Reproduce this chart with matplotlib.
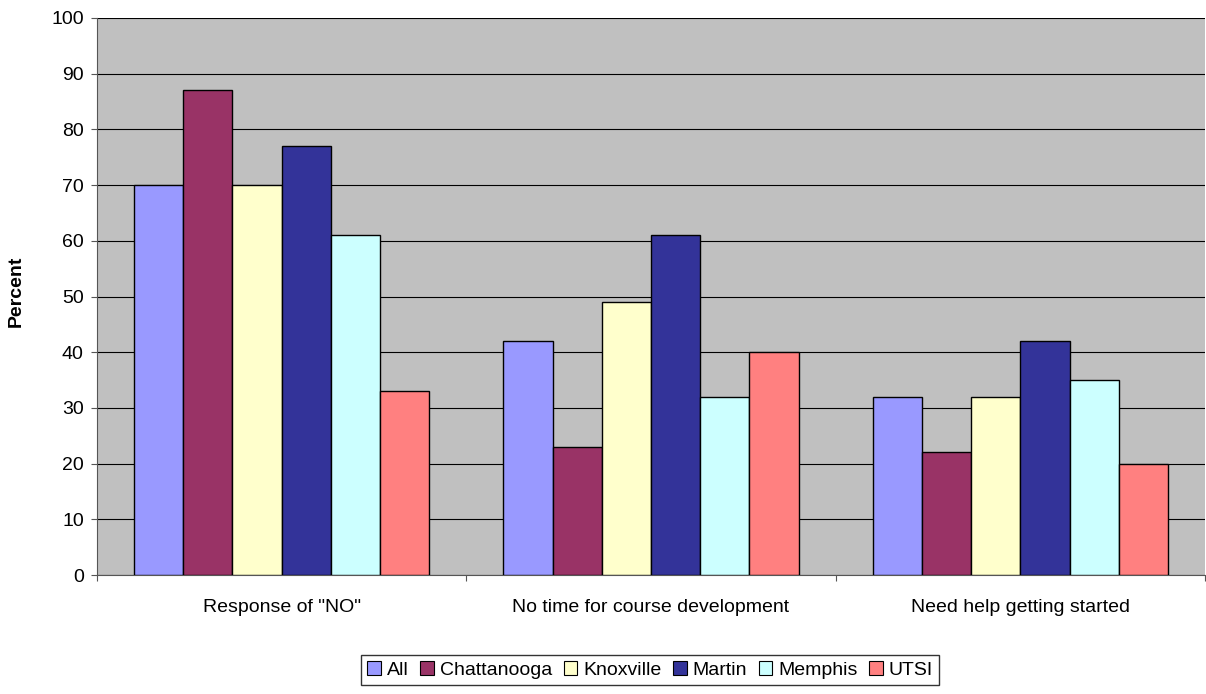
import numpy as np
import matplotlib.pyplot as plt
from matplotlib.patches import Patch

categories = ['Response of "NO"', 'No time for course development', 'Need help getting started']
campuses = ['All', 'Chattanooga', 'Knoxville', 'Martin', 'Memphis', 'UTSI']
colors = ['#9999FF', '#993366', '#FFFFCC', '#333399', '#CCFFFF', '#FF8080']

all_pct = [70, 42, 32]
chattanooga_pct = [87, 23, 22]
knoxville_pct = [70, 49, 32]
martin_pct = [77, 61, 42]
memphis_pct = [61, 32, 35]
utsi_pct = [33, 40, 20]

series = [all_pct, chattanooga_pct, knoxville_pct, martin_pct, memphis_pct, utsi_pct]

plt.rcParams['font.family'] = ['Liberation Sans', 'DejaVu Sans']

fig = plt.figure(figsize=(12.06, 6.94), dpi=100)
ax = fig.add_axes([97 / 1206, 119 / 694, 1108 / 1206, 557 / 694])
ax.set_facecolor('#C0C0C0')

x = np.arange(len(categories))
width = 0.8 / len(series)
for i, (vals, c) in enumerate(zip(series, colors)):
    ax.bar(x - 0.4 + width * (i + 0.5), vals, width, color=c,
           edgecolor='black', linewidth=1, label=campuses[i], zorder=3)

ax.set_xlim(-0.5, len(categories) - 0.5)
ax.set_ylim(0, 100)
ax.set_yticks(range(0, 101, 10))
ax.yaxis.grid(True, color='black', linewidth=0.8, zorder=0)
ax.set_axisbelow(True)

# category labels sit between boundary ticks
ax.set_xticks(np.arange(-0.5, len(categories), 1))
ax.set_xticklabels([])
ax.set_xticks(x, minor=True)
ax.set_xticklabels(categories, minor=True)
ax.tick_params(axis='x', which='minor', length=0, pad=17, labelsize=14)
ax.tick_params(axis='x', which='major', length=4.5, color='#555555')
ax.tick_params(axis='y', length=4.5, pad=5, labelsize=14, color='#555555')

for s in ['top', 'right']:
    ax.spines[s].set_visible(False)
ax.spines['left'].set_color('#555555')
ax.spines['bottom'].set_color('#555555')

fig.text(16 / 1206, 1 - 291 / 694, 'Percent', rotation=90, fontsize=14,
         fontweight='bold', ha='center', va='center')

handles = [Patch(facecolor=c, edgecolor='black', linewidth=0.8) for c in colors]
leg = fig.legend(handles, campuses, loc='center', bbox_to_anchor=(650 / 1206, 1 - 670 / 694),
                 ncol=6, frameon=True, fancybox=False, edgecolor='black',
                 fontsize=14, handlelength=0.7, handleheight=0.7,
                 handletextpad=0.3, columnspacing=0.6, borderpad=0.3)
leg.get_frame().set_linewidth(1)

fig.savefig('out.png', dpi=100)
